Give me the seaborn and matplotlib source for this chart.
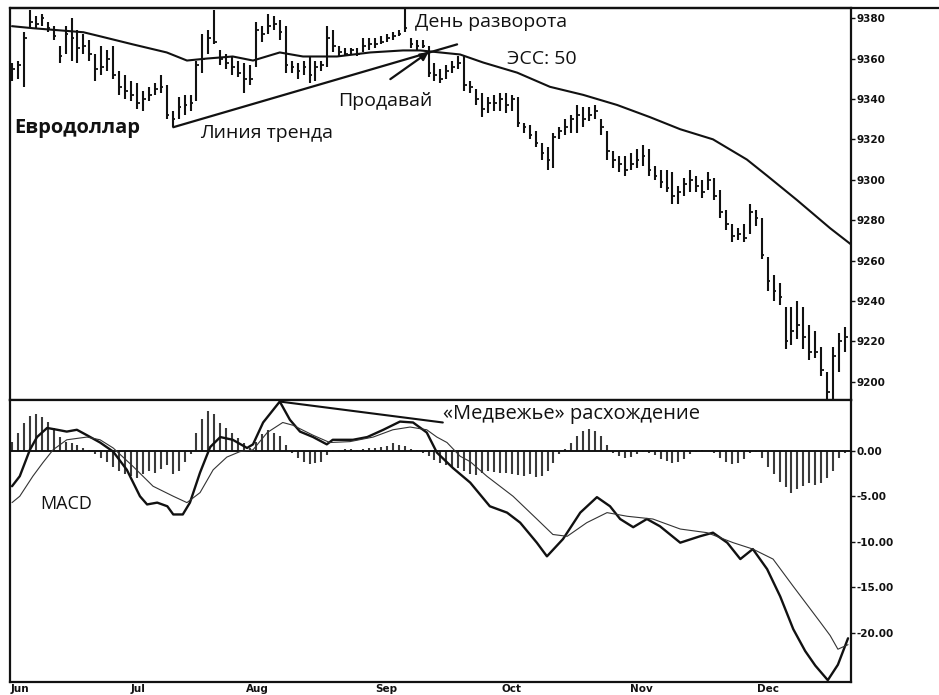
import numpy as np
import pandas as pd
import matplotlib
matplotlib.use("Agg")
import matplotlib.pyplot as plt
import seaborn as sns

# ---------------- data ----------------
months = ["Jun", "Jul", "Aug", "Sep", "Oct", "Nov", "Dec"]
month_pos = [-0.2, 21.2, 41.2, 62.9, 84.0, 105.7, 127.1]

highs = [9358, 9359, 9373, 9384, 9381, 9382, 9378, 9376, 9366, 9376,
         9380, 9374, 9372, 9369, 9362, 9366, 9364, 9366, 9354, 9352,
         9349, 9348, 9344, 9346, 9348, 9352, 9347, 9334, 9341, 9342,
         9342, 9359, 9372, 9374, 9384, 9364, 9362, 9361, 9359, 9358,
         9357, 9378, 9376, 9382, 9381, 9379, 9376, 9359, 9358, 9359,
         9361, 9359, 9359, 9376, 9374, 9366, 9365, 9365, 9365, 9370,
         9370, 9370, 9371, 9372, 9373, 9374, 9386, 9370, 9369, 9369,
         9366, 9358, 9355, 9357, 9359, 9361, 9361, 9349, 9345, 9343,
         9341, 9342, 9343, 9343, 9342, 9341, 9328, 9327, 9324, 9318,
         9316, 9323, 9326, 9330, 9332, 9337, 9336, 9336, 9337, 9330,
         9324, 9314, 9312, 9312, 9313, 9315, 9317, 9315, 9307, 9305,
         9305, 9304, 9297, 9301, 9305, 9302, 9300, 9304, 9301, 9295,
         9285, 9278, 9276, 9278, 9288, 9285, 9281, 9262, 9253, 9249,
         9237, 9237, 9240, 9237, 9228, 9225, 9217, 9205, 9217, 9224,
         9227]
lows = [9349, 9350, 9346, 9375, 9375, 9376, 9373, 9369, 9358, 9362,
        9359, 9358, 9362, 9359, 9349, 9352, 9354, 9350, 9342, 9340,
        9339, 9335, 9334, 9339, 9342, 9343, 9330, 9326, 9330, 9332,
        9334, 9339, 9353, 9362, 9367, 9357, 9355, 9352, 9351, 9343,
        9347, 9356, 9368, 9372, 9374, 9369, 9353, 9353, 9350, 9352,
        9348, 9349, 9354, 9356, 9363, 9361, 9361, 9362, 9361, 9363,
        9364, 9365, 9367, 9368, 9369, 9371, 9373, 9365, 9364, 9365,
        9351, 9349, 9348, 9350, 9353, 9355, 9344, 9343, 9337, 9331,
        9333, 9334, 9334, 9333, 9334, 9326, 9323, 9320, 9316, 9310,
        9305, 9306, 9320, 9322, 9323, 9323, 9326, 9329, 9330, 9322,
        9310, 9306, 9304, 9302, 9305, 9306, 9307, 9302, 9300, 9296,
        9294, 9288, 9288, 9292, 9294, 9294, 9291, 9295, 9290, 9281,
        9275, 9269, 9270, 9269, 9273, 9277, 9261, 9245, 9240, 9238,
        9216, 9218, 9221, 9216, 9211, 9212, 9203, 9190, 9190, 9205,
        9215]
closes = [9355, 9357, 9370, 9378, 9377, 9380, 9375, 9371, 9361, 9372,
          9370, 9365, 9366, 9362, 9355, 9356, 9360, 9352, 9346, 9344,
          9342, 9338, 9340, 9342, 9345, 9346, 9332, 9330, 9336, 9337,
          9338, 9357, 9360, 9370, 9368, 9360, 9358, 9356, 9353, 9350,
          9350, 9374, 9372, 9376, 9377, 9373, 9357, 9356, 9354, 9356,
          9352, 9356, 9357, 9370, 9366, 9363, 9362, 9364, 9362, 9366,
          9367, 9367, 9368, 9370, 9371, 9372, 9375, 9367, 9366, 9366,
          9353, 9352, 9350, 9354, 9356, 9358, 9347, 9346, 9340, 9335,
          9338, 9338, 9340, 9337, 9340, 9328, 9326, 9322, 9318, 9313,
          9310, 9321, 9324, 9326, 9330, 9332, 9330, 9332, 9334, 9326,
          9314, 9310, 9308, 9305, 9308, 9310, 9312, 9305, 9302, 9299,
          9296, 9292, 9294, 9298, 9300, 9297, 9294, 9300, 9292, 9284,
          9278, 9272, 9273, 9271, 9284, 9281, 9263, 9250, 9245, 9242,
          9220, 9225, 9228, 9222, 9215, 9215, 9206, 9195, 9213, 9220,
          9222]

# 50-day exponential moving average (ЭСС: 50), read at points
ema_x = [0, 3.5, 12, 14.8, 20.3, 26, 29.4, 32.8, 37.1, 40.5, 45, 48.9, 54.6,
         60.2, 65.7, 68.6, 75.3, 79.2, 84.9, 90.4, 96, 101.7, 107.2, 112.3,
         117.8, 123.5, 126.9, 131.9, 137.5, 141]
ema_v = [9376, 9375, 9373, 9371, 9367, 9363, 9359, 9360, 9361, 9359, 9363, 9361,
         9361, 9363, 9364, 9364, 9362, 9358, 9353, 9346, 9342, 9337, 9331, 9325,
         9320, 9310, 9302, 9290, 9276, 9268]

# MACD (thick) line
macd_x = [0, 1.3, 3.0, 4.2, 5.9, 7.6, 9.2, 10.9, 12.6, 14.8, 17.0, 19.3, 21.5,
          22.7, 24.4, 26.1, 27.1, 28.7, 29.9, 31.6, 33.3, 35.0, 37.1, 39.5,
          40.5, 42.2, 45.0, 46.7, 48.4, 50.6, 52.9, 53.9, 57.3, 59.7, 62.4,
          65.2, 67.4, 69.7, 71.4, 74.1, 77.0, 80.3, 83.2, 85.4, 88.2, 89.9,
          92.6, 95.5, 98.3, 100.5, 102.2, 104.4, 106.7, 108.9, 112.3, 115.6,
          117.8, 120.2, 122.4, 124.5, 126.9, 129.1, 131.3, 133.3, 135.0,
          137.1, 138.8, 140.5]
macd_v = [-3.9, -2.8, 0.1, 1.5, 2.5, 2.3, 2.1, 2.3, 1.7, 0.9, -0.1, -2.1, -5.0,
          -5.9, -5.7, -6.1, -7.0, -7.0, -5.7, -2.4, 0.4, 1.5, 1.2, 0.3,
          0.7, 3.1, 5.4, 3.4, 2.1, 1.5, 0.7, 1.2, 1.2, 1.5, 2.3,
          3.2, 3.1, 2.0, -0.2, -1.9, -3.5, -6.1, -6.8, -7.9, -10.1, -11.6,
          -9.7, -6.8, -5.1, -6.1, -7.5, -8.4, -7.5, -8.3, -10.1, -9.4,
          -9.0, -10.1, -11.9, -10.8, -13.0, -16.0, -19.6, -22.0, -23.6,
          -25.2, -23.5, -20.6]

# signal (thin) line
sig_x = [0, 1.3, 3.5, 5.2, 6.9, 9.2, 12.6, 14.8, 17.0, 20.3, 23.7, 27.1, 29.4,
         31.6, 33.8, 36.1, 38.3, 40.5, 42.9, 45.5, 47.2, 50.6, 53.4, 56.8,
         60.7, 64.0, 66.9, 69.7, 71.4, 73.1, 75.3, 77.0, 79.8, 84.2, 88.2,
         90.9, 93.3, 96.6, 100.0, 103.4, 107.7, 112.3, 116.8, 121.2, 124.5,
         127.9, 131.3, 135.8, 137.5, 138.8, 140.5]
sig_v = [-5.7, -5.0, -2.8, -1.3, 0.1, 1.2, 1.5, 1.2, 0.3, -1.7, -3.9, -5.0, -5.7,
         -4.6, -2.1, -0.7, -0.1, 0.1, 2.0, 3.1, 2.8, 1.7, 0.9, 1.0,
         1.5, 2.3, 2.6, 2.3, 1.5, 0.9, -0.6, -1.2, -2.8, -5.0, -7.5,
         -9.2, -9.4, -7.9, -6.8, -7.2, -7.5, -8.6, -9.0, -10.1, -10.8,
         -11.9, -14.9, -18.8, -20.3, -21.8, -21.3]

# MACD histogram
hist = [1.0, 2.0, 3.0, 3.8, 4.0, 3.7, 3.2, 2.5, 1.5, 1.0,
        0.8, 0.6, 0.3, 0.1, -0.4, -0.8, -1.2, -1.8, -2.2, -2.6,
        -2.8, -3.0, -2.6, -2.2, -2.4, -2.0, -1.6, -2.6, -2.2, -1.2,
        -0.4, 2.0, 3.5, 4.4, 4.0, 3.0, 2.5, 2.0, 1.4, 0.8,
        0.3, 1.0, 1.8, 2.3, 2.0, 1.6, 0.6, -0.2, -0.8, -1.2,
        -1.5, -1.4, -1.2, -0.5, 0.1, 0.1, 0.2, 0.2, 0.1, 0.2,
        0.3, 0.3, 0.4, 0.5, 0.8, 0.6, 0.5, 0.2, 0.1, -0.2,
        -0.6, -1.0, -1.4, -1.6, -1.8, -1.9, -2.2, -2.6, -2.7, -2.5,
        -2.2, -2.3, -2.4, -2.5, -2.6, -2.7, -2.8, -2.6, -2.9, -2.8,
        -2.2, -1.3, -0.4, 0.2, 0.8, 1.6, 2.2, 2.4, 2.2, 1.6,
        0.6, -0.2, -0.6, -0.8, -0.7, -0.4, -0.1, -0.2, -0.5, -0.9,
        -1.1, -1.3, -1.2, -0.9, -0.4, -0.1, 0.1, 0.0, -0.3, -0.8,
        -1.2, -1.5, -1.3, -0.9, -0.3, -0.1, -0.8, -1.8, -2.6, -3.4,
        -4.0, -4.6, -4.2, -3.9, -3.6, -3.8, -3.5, -3.0, -2.2, -0.8,
        -0.2]

price_ticks = [9380, 9360, 9340, 9320, 9300, 9280, 9260, 9240, 9220, 9200]
macd_ticks = [0, -5, -10, -15, -20]
macd_tick_labels = ["0.00", "-5.00", "-10.00", "-15.00", "-20.00"]

# trend line and divergence line end points (index, value)
trend_pts = ([27.1, 74.8], [9326, 9367])
div_pts = ([45.0, 72.4], [5.4, 3.1])

# ---------------- figure ----------------
sns.set_theme(style="white")
plt.rcParams["font.family"] = ["Open Sans", "DejaVu Sans"]

W, H = 939, 695
fig = plt.figure(figsize=(W / 100, H / 100), dpi=100)
fig.patch.set_facecolor("white")

def frac(x0, y0, x1, y1):
    return [x0 / W, 1 - y1 / H, (x1 - x0) / W, (y1 - y0) / H]

ax1 = fig.add_axes(frac(10, 8, 851, 400))
ax2 = fig.add_axes(frac(10, 400, 851, 682), sharex=ax1)

ink = "#111111"
n = len(highs)
idx = np.arange(n)
df = pd.DataFrame({"i": idx, "high": highs, "low": lows, "close": closes, "hist": hist})

# price bars
ax1.vlines(df["i"], df["low"], df["high"], color=ink, lw=1.5)
ax1.hlines(df["close"], df["i"], df["i"] + 0.45, color=ink, lw=1.3)

ema_df = pd.DataFrame({"x": ema_x, "v": ema_v})
sns.lineplot(data=ema_df, x="x", y="v", ax=ax1, color=ink, lw=1.5,
             sort=False, estimator=None)
ax1.plot(trend_pts[0], trend_pts[1], color=ink, lw=1.6)

ax1.set_xlim(-0.34, 141.0)
ax1.set_ylim(9191, 9385)

# MACD panel
ax2.vlines(df["i"], 0, df["hist"], color="#3a3a3a", lw=1.5)
ax2.axhline(0, color=ink, lw=1.4)
macd_df = pd.DataFrame({"x": macd_x, "v": macd_v})
sig_df = pd.DataFrame({"x": sig_x, "v": sig_v})
sns.lineplot(data=macd_df, x="x", y="v", ax=ax2, color=ink, lw=1.7,
             sort=False, estimator=None)
sns.lineplot(data=sig_df, x="x", y="v", ax=ax2, color="#333333", lw=0.8,
             sort=False, estimator=None)
ax2.plot(div_pts[0], div_pts[1], color=ink, lw=1.5)
ax2.set_ylim(-25.4, 5.57)

for ax in (ax1, ax2):
    ax.set_facecolor("white")
    ax.set_xlabel("")
    ax.set_ylabel("")
    for s in ax.spines.values():
        s.set_color(ink)
        s.set_linewidth(1.6)
        s.set_visible(True)
    ax.yaxis.tick_right()
    ax.tick_params(axis="y", which="both", direction="out", length=3, width=1,
                   pad=1, labelsize=7.5, colors=ink)
    ax.tick_params(axis="x", which="both", length=0, labelbottom=False)
    ax.set_xticks([])

ax1.set_yticks(price_ticks)
ax1.set_yticklabels([str(t) for t in price_ticks], fontweight="bold",
                    family="DejaVu Sans")
ax2.set_yticks(macd_ticks)
ax2.set_yticklabels(macd_tick_labels, fontweight="bold", family="DejaVu Sans")

# month labels under the MACD panel
for m, p in zip(months, month_pos):
    ax2.text(p, -0.006, m, transform=ax2.get_xaxis_transform(),
             ha="left" if m == "Jun" else "center",
             va="top", fontsize=7.5, fontweight="bold", color=ink, clip_on=False,
             family="DejaVu Sans")

# annotations
fs = 14
ax1.text(0.3, 9325.5, "Евродоллар", fontsize=14.5, fontweight="bold", ha="left",
         va="center", color=ink)
ax1.text(31.6, 9323, "Линия тренда", fontsize=fs, ha="left", va="center", color=ink)
ax1.text(54.8, 9339, "Продавай", fontsize=fs, ha="left", va="center", color=ink)
ax1.text(67.7, 9378, "День разворота", fontsize=fs, ha="left", va="center", color=ink)
ax1.text(83.2, 9360, "ЭСС: 50", fontsize=fs, ha="left", va="center", color=ink)
ax1.annotate("", xy=(70.4, 9364), xytext=(63.2, 9349),
             arrowprops=dict(arrowstyle="-|>", color=ink, lw=1.6,
                             mutation_scale=12))
ax2.text(72.4, 4.0, "«Медвежье» расхождение", fontsize=14.5, ha="left",
         va="center", color=ink)
ax2.text(4.7, -5.9, "MACD", fontsize=13, ha="left", va="center", color=ink)

# scan-like outer top line extending to the right edge
fig.add_artist(plt.Line2D([10 / W, 1.0], [1 - 8 / H, 1 - 8 / H], color=ink,
                          lw=1.6, transform=fig.transFigure))

fig.savefig("out.png", dpi=100, facecolor="white")
